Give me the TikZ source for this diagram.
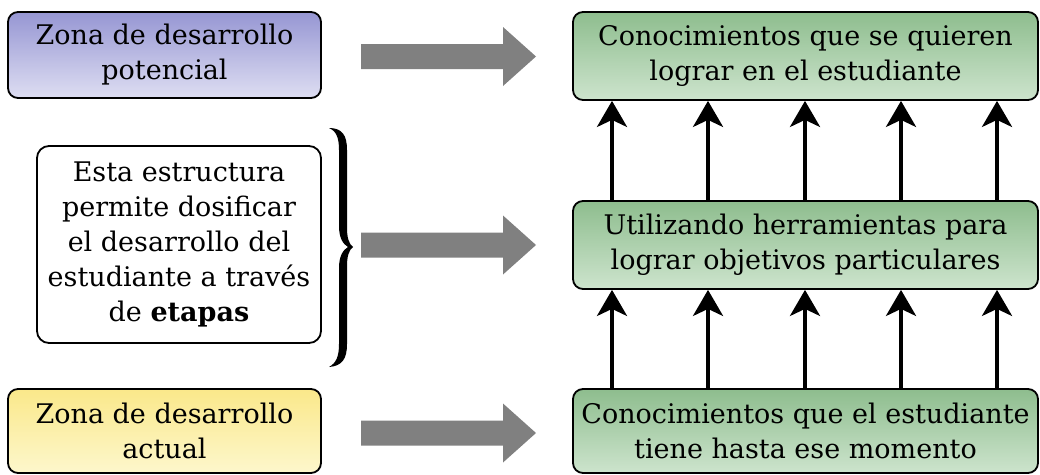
\documentclass[tikz,border=0pt]{standalone}
\usepackage{fontspec}
\setmainfont{DejaVu Serif}
\usetikzlibrary{arrows.meta,calc}
\definecolor{purpTop}{HTML}{9696D3}
\definecolor{purpBot}{HTML}{DEDEF2}
\definecolor{grTop}{HTML}{8EBD8E}
\definecolor{grBot}{HTML}{CDE4CD}
\definecolor{yelTop}{HTML}{FAE88A}
\definecolor{yelBot}{HTML}{FDF7CC}
\definecolor{arrowgray}{HTML}{808080}
\tikzset{
  box/.style={draw=black, line width=1.8pt, rounded corners=10pt, inner sep=0pt,
    align=center, font=\fontsize{27}{35}\selectfont},
  greenbox/.style={box, top color=grTop, bottom color=grBot,
    minimum width=465pt, minimum height=88pt},
  leftbox/.style={box, minimum width=313pt, minimum height=86pt},
  vup/.style={line width=4pt, -{Stealth[length=26pt,width=30pt,inset=7pt]}},
  bigarrow/.pic={\fill[arrowgray] (0,-12.5) -- (142,-12.5) -- (142,-29.5) -- (175,0)
     -- (142,29.5) -- (142,12.5) -- (0,12.5) -- cycle;}
}
\begin{document}
\begin{tikzpicture}[x=1pt,y=-1pt]
\useasboundingbox (0,0) rectangle (1040,474);
% left column
\node[leftbox, top color=purpTop, bottom color=purpBot] (pot) at (164.5,55)
  {Zona de desarrollo\\potencial};
\node[box, fill=white, rounded corners=12pt, minimum width=284pt, minimum height=197pt] (est) at (179,244.5)
  {Esta estructura\\permite dosificar\\el desarrollo del\\estudiante a través\\de \textbf{etapas}};
\node[leftbox, top color=yelTop, bottom color=yelBot, minimum height=84pt] (act) at (164.5,431)
  {Zona de desarrollo\\actual};
% right column
\node[greenbox] (top) at (805.5,56) {Conocimientos que se quieren\\lograr en el estudiante};
\node[greenbox] (mid) at (805.5,245) {Utilizando herramientas para\\lograr objetivos particulares};
\node[greenbox, minimum height=84pt] (bot) at (805.5,431) {Conocimientos que el estudiante\\tiene hasta ese momento};
% brace
\fill[black] (329,128) .. controls (342,128) and (347,135) .. (347,150) -- (347,228)
  .. controls (347,238) and (349,244) .. (353,247)
  .. controls (349,250) and (347,256) .. (347,266) -- (347,344)
  .. controls (347,359) and (342,366) .. (329,367)
  .. controls (336,363) and (339,357) .. (339,344) -- (339,268)
  .. controls (339,256) and (343,250) .. (348,247)
  .. controls (343,244) and (339,238) .. (339,226) -- (339,150)
  .. controls (339,137) and (336,131) .. (329,128) -- cycle;
% gray block arrows
\pic at (361,56.5) {bigarrow};
\pic at (361,245) {bigarrow};
\pic at (361,433) {bigarrow};
% vertical arrows
\foreach \x [count=\i] in {612,708,805,901,997}{
  \coordinate (c\i) at (\x,0);
  \draw[vup] (mid.north -| c\i) -- (top.south -| c\i);
  \draw[vup] (bot.north -| c\i) -- (mid.south -| c\i);
}
\end{tikzpicture}
\end{document}
